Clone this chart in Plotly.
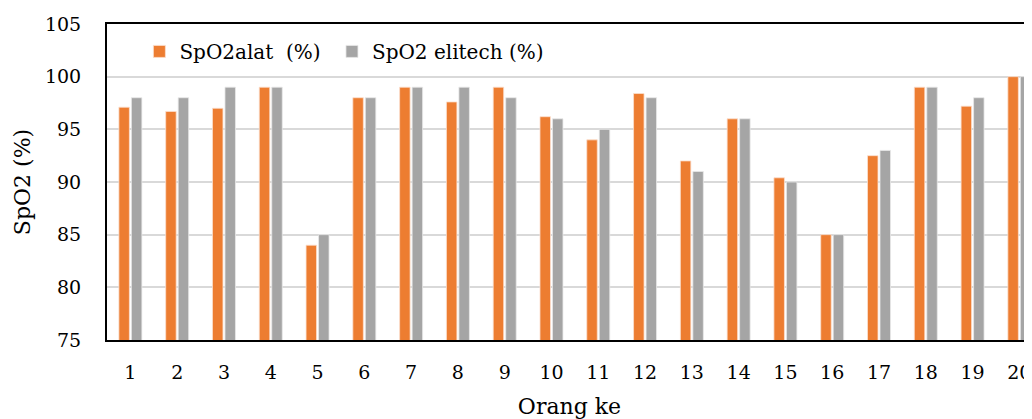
import plotly.graph_objects as go

categories = [str(i) for i in range(1, 21)]
spo2_alat = [97.1, 96.7, 97.0, 99.0, 84.0, 98.0, 99.0, 97.6, 99.0, 96.2,
             94.0, 98.4, 92.0, 96.0, 90.4, 85.0, 92.5, 99.0, 97.2, 100.0]
spo2_elitech = [98.0, 98.0, 99.0, 99.0, 85.0, 98.0, 99.0, 99.0, 98.0, 96.0,
                95.0, 98.0, 91.0, 96.0, 90.0, 85.0, 93.0, 99.0, 98.0, 100.0]
x_positions = list(range(1, 21))

FONT = "DejaVu Serif"

fig = go.Figure()
fig.add_trace(go.Bar(
    x=x_positions, y=spo2_alat, name="SpO2alat\u00a0 (%)\u00a0",
    marker=dict(color="#ED7D31", line=dict(color="#FBE0CF", width=0.8)),
))
fig.add_trace(go.Bar(
    x=x_positions, y=spo2_elitech, name="SpO2 elitech (%)",
    marker=dict(color="#A5A5A5", line=dict(color="#E8E8E8", width=0.8)),
))

fig.update_layout(
    width=1024, height=411,
    margin=dict(l=99, r=0, t=16, b=79),
    paper_bgcolor="white", plot_bgcolor="white",
    barmode="group", bargap=0.466, bargroupgap=0.16,
    font=dict(family=FONT, size=19, color="#000000"),
    legend=dict(orientation="h", x=0.035, y=0.975, xanchor="left", yanchor="top",
                font=dict(family=FONT, size=20), bgcolor="rgba(0,0,0,0)",
                itemwidth=30, traceorder="normal"),
    xaxis=dict(
        range=[0.5, 20.27], tickmode="array", tickvals=x_positions, ticktext=categories,
        showline=True, linecolor="black", linewidth=2, mirror=True,
        showgrid=False, ticks="", ticklabelstandoff=14, automargin=False,
        title=dict(text="Orang ke", font=dict(family=FONT, size=22), standoff=17),
    ),
    yaxis=dict(
        range=[75, 105], dtick=5, tick0=75,
        showline=True, linecolor="black", linewidth=2, mirror=False,
        showgrid=True, gridcolor="#D9D9D9", gridwidth=1.5,
        ticks="", ticklabelstandoff=20, zeroline=False, automargin=False,
        title=dict(text="SpO2 (%)", font=dict(family=FONT, size=22), standoff=8),
    ),
)

fig.write_html("out.html")
